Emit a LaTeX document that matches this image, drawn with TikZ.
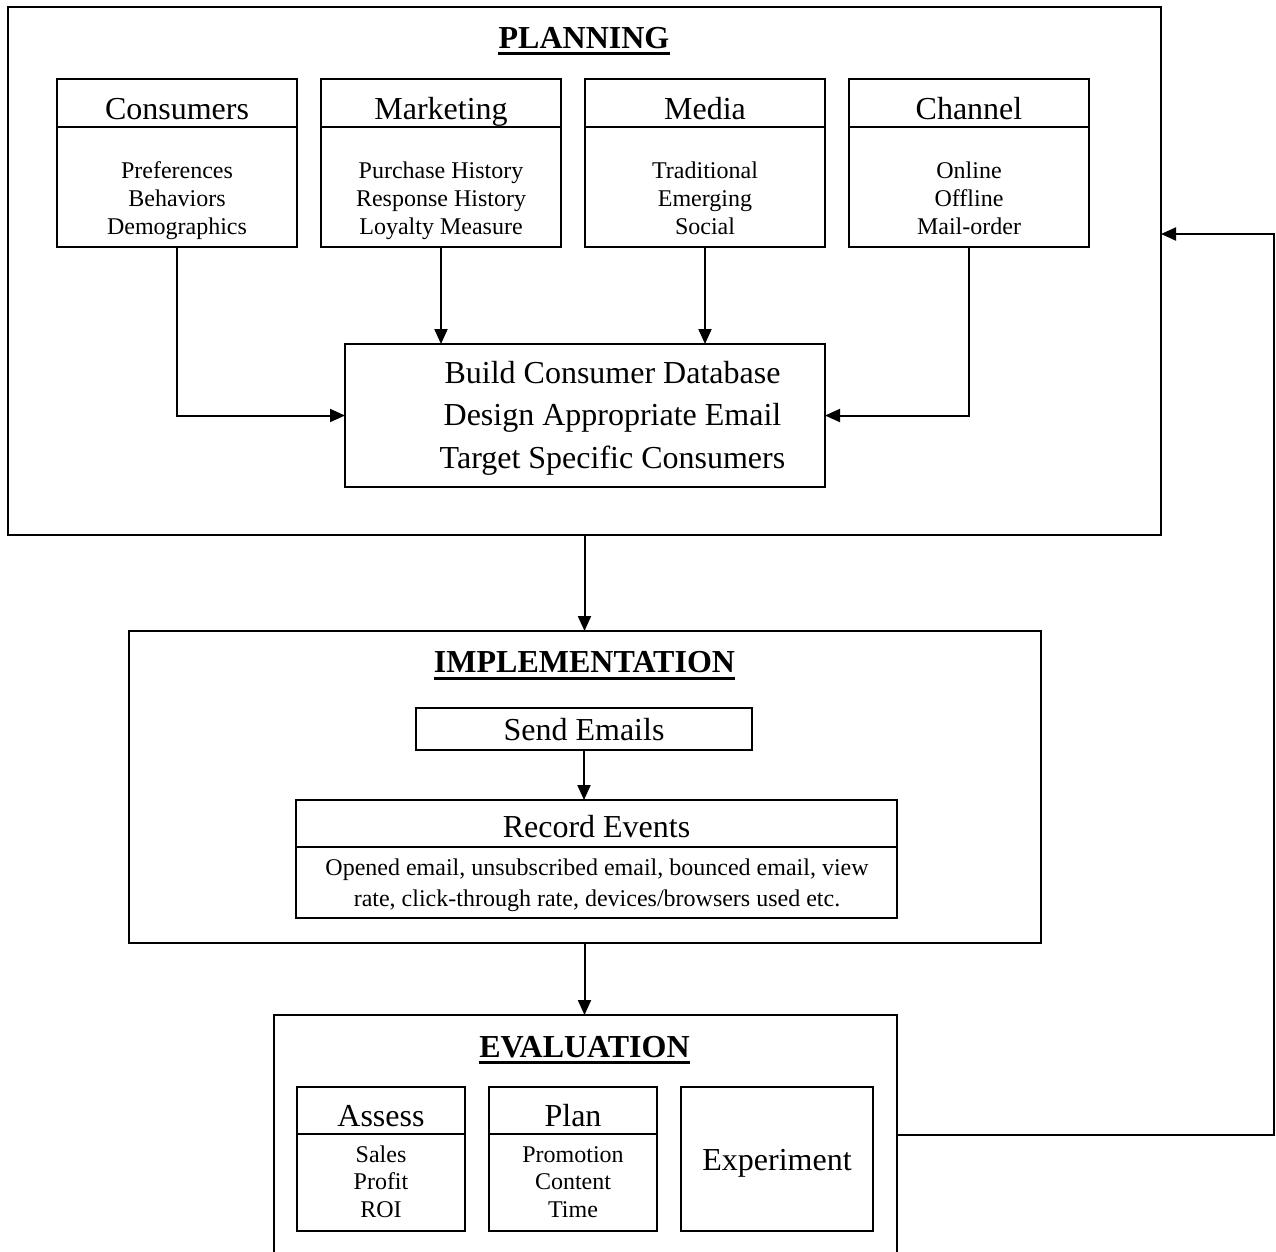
\documentclass[tikz,border=0pt]{standalone}
\usepackage{fontspec}
\setmainfont{Liberation Serif}
\usetikzlibrary{arrows.meta}
\tikzset{
  box/.style={draw, line width=2pt, inner sep=0pt, outer sep=0pt, fill=none},
  ln/.style={line width=2pt},
  arr/.style={line width=2pt, -{Triangle[length=15pt,width=13pt]}},
  ttl/.style={font=\fontsize{32}{38}\selectfont\bfseries, inner sep=0pt, anchor=base},
  hd/.style={font=\fontsize{32}{38}\selectfont, inner sep=0pt, anchor=base},
  bd/.style={font=\fontsize{24}{28}\selectfont, inner sep=0pt, anchor=base},
  uline/.style={line width=3pt}
}
\begin{document}
\begin{tikzpicture}[x=1pt,y=-1pt]
\clip (0,0) rectangle (1276,1251);
\fill[white] (0,0) rectangle (1276,1251);

% ---------- PLANNING ----------
\node[box, minimum width=1153, minimum height=528] (plan) at (584.5,271) {};
\node[ttl] (ptitle) at (584,48) {PLANNING};
\draw[uline] ([yshift=-5.5pt]ptitle.base west) -- ([yshift=-5.5pt]ptitle.base east);

\node[box, minimum width=240, minimum height=168] (cons) at (177,163) {};
\node[box, minimum width=240, minimum height=168] (mkt) at (441,163) {};
\node[box, minimum width=240, minimum height=168] (media) at (705,163) {};
\node[box, minimum width=240, minimum height=168] (chan) at (969,163) {};
\foreach \b in {cons,mkt,media,chan}
  \draw[ln] (\b.west |- 0,127) -- (\b.east |- 0,127);

\node[hd] (consh) at (177,119) {Consumers};
\node[hd] (mkth) at (441,119) {Marketing};
\node[hd] (mediah) at (705,119) {Media};
\node[hd] (chanh) at (969,119) {Channel};

\foreach \t [count=\i] in {Preferences,Behaviors,Demographics}
  \node[bd] (consb\i) at (177,{178+28*(\i-1)}) {\t};
\foreach \t [count=\i] in {Purchase History,Response History,Loyalty Measure}
  \node[bd] (mktb\i) at (441,{178+28*(\i-1)}) {\t};
\foreach \t [count=\i] in {Traditional,Emerging,Social}
  \node[bd] (mediab\i) at (705,{178+28*(\i-1)}) {\t};
\foreach \t [count=\i] in {Online,Offline,Mail-order}
  \node[bd] (chanb\i) at (969,{178+28*(\i-1)}) {\t};

\node[box, minimum width=480, minimum height=143] (central) at (585,415.5) {};
\foreach \t [count=\i] in {Build Consumer Database,Design Appropriate Email,Target Specific Consumers}
  \node[hd] (centralt\i) at (612.5,{383+42.5*(\i-1)}) {\t};

\draw[arr] (cons.south) |- (central.west);
\draw[arr] (mkt.south) -- (mkt.south |- central.north);
\draw[arr] (media.south) -- (media.south |- central.north);
\draw[arr] (chan.south) |- (central.east);

% ---------- IMPLEMENTATION ----------
\node[box, minimum width=912, minimum height=312] (impl) at (585,787) {};
\node[ttl] (ititle) at (584.5,672) {IMPLEMENTATION};
\draw[uline] ([yshift=-6pt]ititle.base west) -- ([yshift=-6pt]ititle.base east);

\node[box, minimum width=336, minimum height=42] (send) at (584,729) {};
\node[hd] (sendt) at (584,740) {Send Emails};

\node[box, minimum width=601, minimum height=118] (rec) at (596.5,859) {};
\draw[ln] (rec.west |- 0,847) -- (rec.east |- 0,847);
\node[hd] (rect) at (596.5,837) {Record Events};
\node[bd] (recb1) at (597,875) {Opened email, unsubscribed email, bounced email, view};
\node[bd] (recb2) at (597,906) {rate, click-through rate, devices/browsers used etc.};

\draw[arr] (plan.south -| 584.5,0) -- (impl.north -| 584.5,0);
\draw[arr] (send.south) -- (send.south |- rec.north);

% ---------- EVALUATION ----------
\node[box, minimum width=623, minimum height=250] (eval) at (585.5,1140) {};
\node[ttl] (etitle) at (584.5,1057) {EVALUATION};
\draw[uline] ([yshift=-5.5pt]etitle.base west) -- ([yshift=-5.5pt]etitle.base east);

\draw[arr] (impl.south -| 584.5,0) -- (eval.north -| 584.5,0);

\node[box, minimum width=168, minimum height=144] (assess) at (381,1159) {};
\node[box, minimum width=168, minimum height=144] (evplan) at (573,1159) {};
\node[box, minimum width=192, minimum height=144] (exper) at (777,1159) {};
\draw[ln] (assess.west |- 0,1134) -- (assess.east |- 0,1134);
\draw[ln] (evplan.west |- 0,1134) -- (evplan.east |- 0,1134);

\node[hd] (assessh) at (381,1126) {Assess};
\node[hd] (evplanh) at (573,1126) {Plan};
\node[hd] (expert) at (777,1170) {Experiment};
\foreach \t [count=\i] in {Sales,Profit,ROI}
  \node[bd] (assessb\i) at (381,{1162+27.5*(\i-1)}) {\t};
\foreach \t [count=\i] in {Promotion,Content,Time}
  \node[bd] (evplanb\i) at (573,{1162+27.5*(\i-1)}) {\t};

% ---------- FEEDBACK ----------
\coordinate (fb1) at (1274,1135);
\coordinate (fb2) at (1274,234);
\draw[arr] (eval.east |- fb1) -- (fb1) -- (fb2) -- (plan.east |- fb2);
\end{tikzpicture}
\end{document}
